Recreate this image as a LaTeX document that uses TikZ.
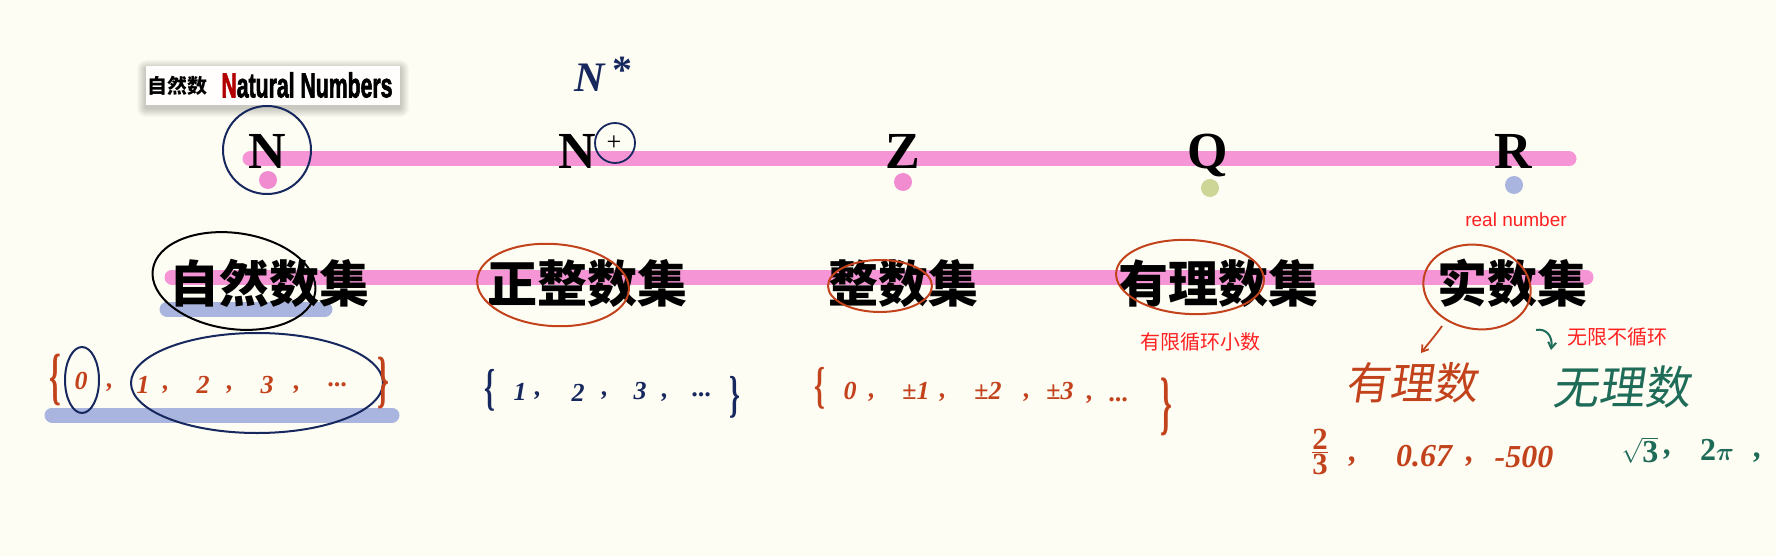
\documentclass[tikz,border=0pt]{standalone}
\usepackage{amsmath}
\usepackage{fontspec}
\setmainfont{Liberation Serif}
\setsansfont{Liberation Sans}
\newfontfamily\cjk{Noto Sans CJK SC}
\newfontfamily\cjkhand{Noto Sans CJK SC}[FakeSlant=0.15]
\newfontfamily\heavysans{Liberation Sans Bold}[FakeBold=2.5]
\usetikzlibrary{arrows.meta}
\definecolor{bg}{HTML}{FEFDF4}
\definecolor{pinkline}{HTML}{F595D6}
\definecolor{pinkdot}{HTML}{F08CCF}
\definecolor{bluebar}{HTML}{A9B5DE}
\definecolor{olivedot}{HTML}{CDD597}
\definecolor{navy}{HTML}{17285E}
\definecolor{redink}{HTML}{C2421C}
\definecolor{greenink}{HTML}{1E6B58}
\definecolor{redtext}{HTML}{FF2020}
\tikzset{
  pinkbar/.style={line width=15pt, pinkline, line cap=round},
  bluebarline/.style={line width=15pt, bluebar, line cap=round},
  setletter/.style={font=\fontsize{52}{52}\selectfont\bfseries, inner sep=0, anchor=base},
  cjkset/.style={font=\cjk\bfseries\fontsize{50}{50}\selectfont, inner sep=0},
  redlabel/.style={font=\cjk\fontsize{20}{20}\selectfont, text=redtext, inner sep=0},
  inkellipse/.style={line width=2pt},
  handnum/.style={font=\fontsize{26}{26}\selectfont\bfseries\itshape, inner sep=0},
  bignum/.style={font=\fontsize{32}{32}\selectfont\bfseries\itshape, inner sep=0},
  handcjk/.style={font=\cjkhand\fontsize{44}{44}\selectfont, inner sep=0},
  brace/.style={inner sep=0},
}
\begin{document}
\begin{tikzpicture}[x=1pt,y=-1pt]
\fill[bg] (0,0) rectangle (1776,556);
\useasboundingbox (0,0) rectangle (1776,556);

% label box with soft shadow
\foreach \i in {1,...,9}
  \fill[black, opacity=0.025, rounded corners=\i pt] (146-\i,66-\i+3) rectangle (400+\i,105+\i+3);
\fill[white!70!bg] (146,66) rectangle (400,105);
\node[font=\cjk\bfseries\fontsize{20}{20}\selectfont, inner sep=0] (boxcjk) at (177,86) {自然数};
\node[inner sep=0] (boxen) at (307,85) {\resizebox{171pt}{25pt}{\heavysans\textcolor[HTML]{B00000}{N}atural Numbers}};

% pink lines
\draw[pinkbar] (250,159) -- (1569,159);
\draw[pinkbar] (172,277) -- (1586,277);
% blue highlight bars
\draw[bluebarline] (167,309) -- (325,309);
\draw[bluebarline] (52,415) -- (392,415);

% dots
\fill[pinkdot] (268,180) circle (9);
\fill[pinkdot] (903,182) circle (9);
\fill[olivedot] (1210,188) circle (9);
\fill[bluebar] (1514,185) circle (9);

% letters
\node[setletter] (N) at (267,168) {N};
\node[setletter] (Np) at (577,168) {N};
\node[inner sep=0, font=\fontsize{26}{26}\selectfont] (plus) at (614,143) {+};
\node[setletter] (Z) at (903,168) {Z};
\node[setletter] (Q) at (1208,168) {Q};
\node[setletter] (R) at (1513,168) {R};

% handwritten N*
\node[inner sep=0, text=navy, font=\fontsize{42}{42}\selectfont\bfseries\itshape] (Nstar) at (590,78) {N};
\node[inner sep=0, text=navy, font=\fontsize{40}{40}\selectfont\bfseries] (star) at (622,70) {*};

% set names
\node[cjkset] (s1) at (269,283) {自然数集};
\node[cjkset] (s2) at (587,283) {正整数集};
\node[cjkset] (s3) at (903,283) {整数集};
\node[cjkset] (s4) at (1218,283) {有理数集};
\node[cjkset] (s5) at (1512,283) {实数集};

% circles / ellipses
\draw[navy, inkellipse] (267,150) circle (44);
\draw[navy, line width=1.8pt] (615,143) circle (20);
\draw[black, inkellipse, rotate around={-8:(234,281)}] (234,281) ellipse [x radius=82, y radius=48];
\draw[redink, inkellipse, rotate around={-4:(553,285)}] (553,285) ellipse [x radius=76, y radius=41];
\draw[redink, inkellipse] (880,286) ellipse [x radius=52, y radius=26];
\draw[redink, inkellipse, rotate around={-3:(1190,277)}] (1190,277) ellipse [x radius=74, y radius=37];
\draw[redink, inkellipse, rotate around={-10:(1477,287)}] (1477,287) ellipse [x radius=54, y radius=42];
\draw[navy, inkellipse] (82,380) ellipse [x radius=17, y radius=33];
\draw[navy, inkellipse] (257,383) ellipse [x radius=126, y radius=50];

% red labels
\node[font=\sffamily\fontsize{19}{19}\selectfont, text=redtext, inner sep=0] (real) at (1516,220) {real number};
\node[redlabel] (finite) at (1200,342) {有限循环小数};
\node[redlabel] (infinite) at (1617,337) {无限不循环};

% handwritten set {0,1,2,3,...}
\node[brace, text=redink] (b1l) at (55,380) {\scalebox{0.6}[1.25]{\fontsize{50}{50}\selectfont\bfseries\{}};
\node[handnum, text=redink] (n0) at (81,381) {0};
\node[handnum, text=redink] at (110,388) {,};
\node[handnum, text=redink] (n1) at (143,385) {1};
\node[handnum, text=redink] at (166,390) {,};
\node[handnum, text=redink] (n2) at (203,385) {2};
\node[handnum, text=redink] at (230,390) {,};
\node[handnum, text=redink] (n3) at (267,385) {3};
\node[handnum, text=redink] at (297,390) {,};
\node[handnum, text=redink] (ndots) at (338,385) {...};
\node[brace, text=redink] (b1r) at (383,383) {\scalebox{0.6}[1.25]{\fontsize{50}{50}\selectfont\bfseries\}}};

% handwritten {1,2,3,...}
\node[brace, text=navy] (b2l) at (490,390) {\scalebox{0.6}[1.1]{\fontsize{46}{46}\selectfont\bfseries\{}};
\node[handnum, text=navy] (p1) at (520,392) {1};
\node[handnum, text=navy] at (538,396) {,};
\node[handnum, text=navy] (p2) at (578,393) {2};
\node[handnum, text=navy] at (605,396) {,};
\node[handnum, text=navy] (p3) at (640,391) {3};
\node[handnum, text=navy] at (665,398) {,};
\node[handnum, text=navy] (pdots) at (702,395) {...};
\node[brace, text=navy] (b2r) at (735,397) {\scalebox{0.6}[1.1]{\fontsize{46}{46}\selectfont\bfseries\}}};

% handwritten {0,±1,±2,±3,...}
\node[brace, text=redink] (b3l) at (820,388) {\scalebox{0.6}[1.1]{\fontsize{46}{46}\selectfont\bfseries\{}};
\node[handnum, text=redink] (z0) at (850,391) {0};
\node[handnum, text=redink] at (872,398) {,};
\node[handnum, text=redink] (z1) at (916,391) {±1};
\node[handnum, text=redink] at (943,398) {,};
\node[handnum, text=redink] (z2) at (988,391) {±2};
\node[handnum, text=redink] at (1027,398) {,};
\node[handnum, text=redink] (z3) at (1060,391) {±3};
\node[handnum, text=redink] at (1090,400) {,};
\node[handnum, text=redink] (zdots) at (1119,400) {...};
\node[brace, text=redink] (b3r) at (1166,407) {\scalebox{0.6}[1.4]{\fontsize{50}{50}\selectfont\bfseries\}}};

% rational / irrational
\coordinate (arrA) at (1442,326);
\coordinate (arrB) at (1421,353);
\draw[redink, line width=1.8pt, -{Straight Barb[length=6pt,width=8pt]}] (arrA) .. controls (1435,336) and (1427,345) .. (arrB);
\node[handcjk, text=redink] (rat) at (1411,383) {有理数};
\coordinate (garA) at (1536,330);
\coordinate (garB) at (1551,350);
\draw[greenink, line width=2pt, -{Straight Barb[length=6pt,width=8pt]}] (garA) .. controls (1546,328) and (1553,336) .. (garB);
\node[handcjk, text=greenink, font=\cjkhand\fontsize{46}{46}\selectfont] (irr) at (1621,387) {无理数};

\node[inner sep=0, text=redink, font=\fontsize{44}{44}\selectfont\bfseries] (frac) at (1320,452) {$\frac{\mathbf{2}}{\mathbf{3}}$};
\node[bignum, text=redink] at (1353,462) {,};
\node[bignum, text=redink] (r067) at (1424,456) {0.67};
\node[bignum, text=redink] at (1470,462) {,};
\node[bignum, text=redink] (r500) at (1524,457) {-500};
\node[inner sep=0, text=greenink, font=\fontsize{32}{32}\selectfont] (sq3) at (1640,450) {$\sqrt{\mathbf{3}}$};
\node[bignum, text=greenink] at (1668,455) {,};
\node[inner sep=0, text=greenink, font=\fontsize{32}{32}\selectfont] (tpi) at (1717,450) {$\mathbf{2}\boldsymbol{\pi}$};
\node[bignum, text=greenink] at (1758,458) {,};
\end{tikzpicture}
\end{document}
